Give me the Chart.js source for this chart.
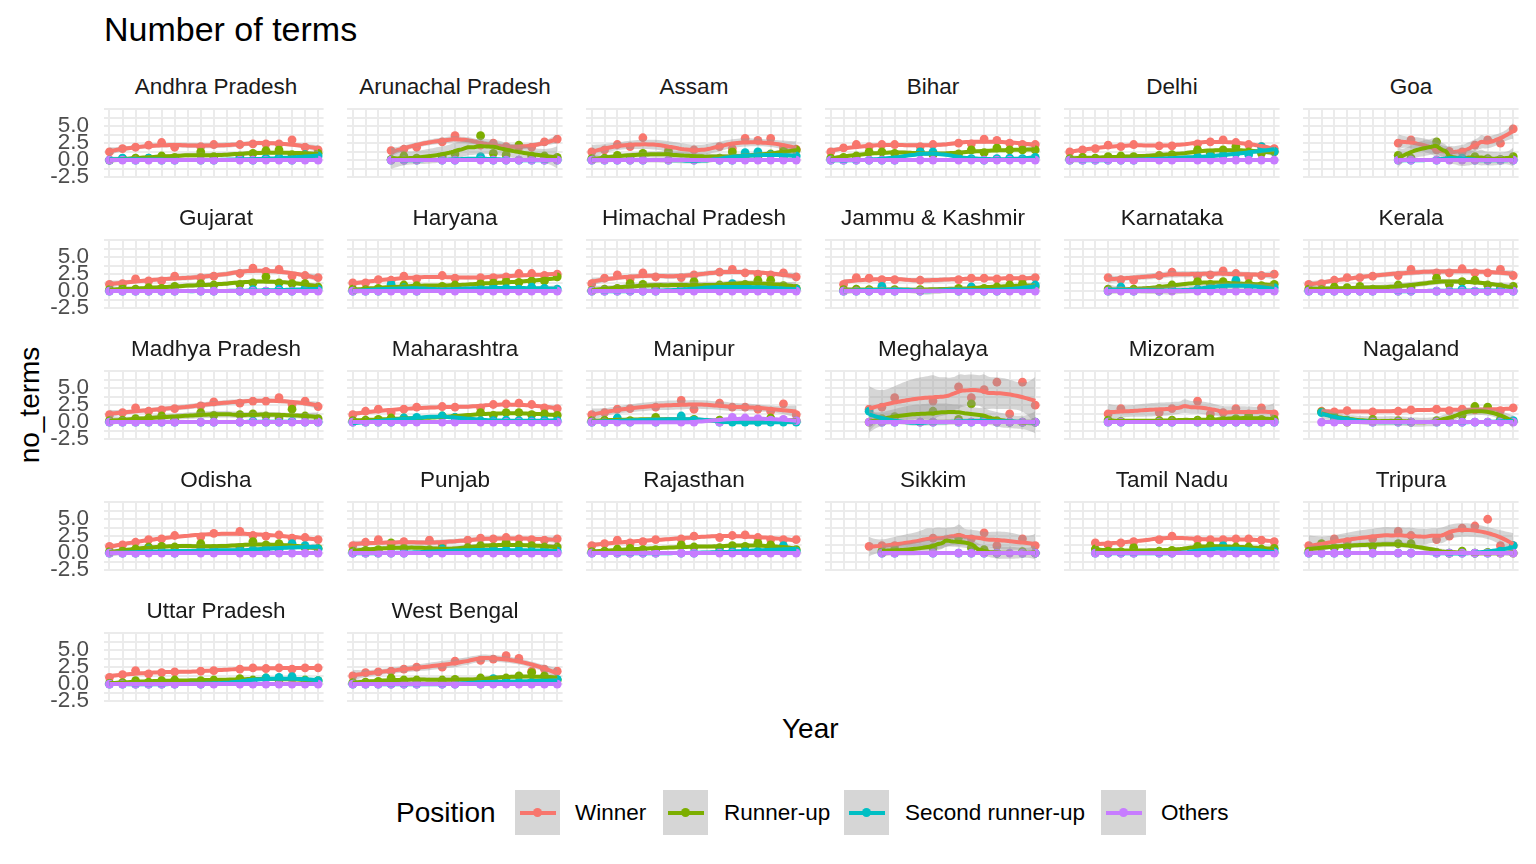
<!DOCTYPE html>
<html>
<head>
<meta charset="utf-8">
<script src="https://cdn.jsdelivr.net/npm/chart.js@4.4.1/dist/chart.umd.min.js"></script>
<style>
  body { margin: 0; background: #fff; font-family: "Liberation Sans", Arial, sans-serif; }
  #page { position: relative; width: 1536px; height: 864px; overflow: hidden; background: #fff; }
  #page canvas { position: absolute; }
  .txt { position: absolute; white-space: nowrap; line-height: 1; }
  .strip { font-size: 22.5px; color: #1A1A1A; text-align: center; width: 224px; }
  .key { position: absolute; width: 45px; height: 45px; background: #D6D6D6; }
  .key .ln { position: absolute; left: 4.5px; width: 36px; top: 20.5px; height: 4px; }
  .key .pt { position: absolute; left: 18px; top: 18px; width: 9px; height: 9px; border-radius: 50%; }
</style>
</head>
<body>
<div id="page">
  <div class="txt" style="left:104px;top:12px;font-size:34px;color:#000">Number of terms</div>
  <div class="txt" style="left:782px;top:715px;font-size:28px;color:#000">Year</div>
  <div class="txt" style="left:30px;top:405px;font-size:28px;color:#000;transform:translate(-50%,-50%) rotate(-90deg)">no_terms</div>
  <div id="legend"></div>
</div>
<script>
const _ = null;

const states = ["Andhra Pradesh", "Arunachal Pradesh", "Assam", "Bihar", "Delhi", "Goa",
  "Gujarat", "Haryana", "Himachal Pradesh", "Jammu & Kashmir", "Karnataka", "Kerala",
  "Madhya Pradesh", "Maharashtra", "Manipur", "Meghalaya", "Mizoram", "Nagaland",
  "Odisha", "Punjab", "Rajasthan", "Sikkim", "Tamil Nadu", "Tripura",
  "Uttar Pradesh", "West Bengal"];

// election slots along the Year axis (17 per panel), one row per state
const winner = [
  [1.2,1.7,1.9,2.2,2.6,1.9,_,2.0,2.3,_,2.3,2.4,2.4,2.4,3.0,1.9,1.5],
  [_,_,_,1.4,1.6,1.9,_,2.7,3.6,_,2.2,2.5,2.0,1.9,1.9,2.7,3.1],
  [1.2,1.5,2.3,2.0,3.3,_,1.5,_,1.5,_,2.0,1.7,3.2,2.9,3.2,1.8,1.6],
  [1.2,1.8,2.3,2.0,2.3,2.3,_,2.0,2.3,_,2.5,2.4,3.1,2.9,2.5,2.3,2.3],
  [1.2,1.5,1.7,2.2,2.0,2.3,_,2.1,2.1,_,2.4,2.7,3.0,2.6,2.3,2.0,1.7],
  [_,_,_,_,_,_,_,2.5,3.0,_,1.5,1.3,1.2,2.2,3.0,2.5,4.6],
  [1.0,1.1,1.8,1.5,1.5,2.2,_,2.0,2.2,_,2.6,3.4,2.9,3.2,2.2,2.3,2.0],
  [1.2,1.2,1.7,1.6,2.2,1.8,_,2.3,1.9,_,2.0,2.0,2.1,2.6,2.6,2.3,2.5],
  [1.1,1.9,2.4,1.8,2.7,2.1,_,2.0,2.4,_,2.8,3.2,2.7,2.5,2.4,2.7,2.1],
  [_,1.0,2.0,1.9,1.7,1.7,_,1.6,_,_,1.7,1.9,1.9,1.8,1.9,1.8,2.0],
  [_,_,_,2.0,1.7,1.6,_,2.3,2.8,_,2.2,2.4,3.0,2.6,2.1,2.3,2.5],
  [1.0,1.1,1.6,2.0,2.0,2.2,_,2.3,3.2,_,2.7,2.7,3.3,2.7,2.7,3.2,2.3],
  [1.1,1.4,2.1,1.6,1.8,2.0,_,2.4,3.0,_,2.8,3.1,3.1,3.6,2.6,3.1,2.3],
  [1.1,1.6,1.9,1.4,1.9,2.2,_,2.3,2.2,_,2.1,2.6,2.7,2.8,2.6,2.1,2.0],
  [1.1,1.4,1.9,2.0,_,2.2,_,3.2,1.9,_,2.8,2.2,2.2,1.9,1.6,2.7,1.1],
  [_,_,_,1.9,2.2,3.6,_,_,3.1,_,5.2,3.6,4.8,5.9,1.2,5.9,2.5],
  [_,_,_,1.2,2.0,_,_,1.4,2.0,_,3.1,1.2,1.4,2.0,1.2,2.1,1.2],
  [_,1.6,1.5,1.7,_,1.5,_,1.6,1.8,_,1.9,1.7,1.9,1.8,2.0,1.7,2.1],
  [1.0,1.2,1.6,2.0,2.1,2.6,_,2.4,2.9,_,3.2,2.6,2.5,2.7,2.2,2.3,2.0],
  [1.1,1.6,2.0,1.2,1.7,_,1.9,1.2,_,1.9,2.2,2.1,2.3,2.1,2.0,1.9,2.1],
  [1.1,1.4,1.9,1.5,1.7,2.0,_,2.1,2.5,_,2.3,2.6,2.7,2.3,2.0,2.0,2.0],
  [_,_,_,1.0,1.1,1.1,_,_,2.2,_,_,2.1,3.0,1.1,_,2.1,1.1],
  [_,_,1.5,1.2,1.5,1.7,_,2.0,2.5,_,2.0,2.0,2.0,2.1,2.1,1.9,1.7],
  [1.1,1.1,2.1,1.7,_,2.1,_,3.2,2.6,_,2.0,2.5,3.7,4.0,5.0,1.1,1.1],
  [1.0,1.4,2.0,1.5,1.7,1.8,_,1.9,2.0,_,2.2,2.4,2.3,2.4,2.2,2.4,2.4],
  [1.2,1.7,1.8,1.9,2.2,2.5,_,2.5,3.4,_,3.5,3.7,4.2,3.8,1.9,2.2,1.9]
];

const runnerUp = [
  [0.0,0.2,0.3,0.3,0.6,0.4,_,1.2,0.5,_,0.6,1.0,1.4,1.5,0.8,0.8,1.0],
  [_,_,_,0.1,0.6,0.3,_,0.5,0.9,_,3.6,1.0,0.8,2.2,0.6,0.6,0.4],
  [0.2,0.3,0.7,0.3,1.0,_,1.2,_,0.2,_,0.3,1.2,0.6,0.5,0.9,1.3,1.5],
  [0.3,0.4,0.6,1.2,1.2,1.0,_,1.2,0.8,_,0.9,1.5,1.1,1.8,1.5,1.5,1.5],
  [0.2,0.4,0.3,0.5,0.6,0.5,_,0.7,0.8,_,1.5,1.0,1.5,2.0,1.2,1.0,1.2],
  [_,_,_,_,_,_,_,0.7,0.3,_,2.7,0.3,0.2,0.5,0.2,0.1,0.5],
  [0.2,0.4,0.3,0.5,0.4,0.7,_,1.1,0.9,_,1.0,1.2,2.1,1.2,1.1,1.1,0.6],
  [0.3,0.2,0.4,0.6,0.9,0.8,_,0.7,0.9,_,1.1,1.2,1.4,1.3,1.5,1.5,2.1],
  [0.1,0.3,0.4,1.1,1.0,0.5,_,0.6,1.4,_,0.9,0.6,1.0,1.6,1.6,0.8,0.4],
  [_,0.2,0.3,0.2,0.3,0.2,_,0.2,_,_,0.4,0.5,0.4,0.6,0.9,1.1,0.6],
  [_,_,_,0.3,0.2,0.3,_,0.4,0.9,_,1.4,1.0,1.4,1.1,1.1,0.8,1.0],
  [0.3,0.2,0.6,0.5,0.7,0.3,_,0.9,0.5,_,1.9,1.0,1.4,1.6,0.9,0.6,0.7],
  [0.2,0.3,0.5,0.6,0.9,0.4,_,1.4,1.0,_,1.1,1.2,0.9,0.6,1.9,0.9,0.5],
  [0.2,0.3,0.4,0.6,0.6,0.4,_,0.9,0.7,_,1.4,1.0,1.4,1.4,1.1,1.2,1.0],
  [0.2,0.3,0.3,0.2,_,0.7,_,0.2,0.4,_,0.3,0.2,0.3,0.2,0.6,0.3,0.2],
  [_,_,_,0.0,0.5,0.8,_,_,1.6,_,0.4,2.7,0.3,0.2,0.0,0.0,0.0],
  [_,_,_,0.3,0.1,_,_,0.2,0.3,_,0.3,0.5,0.3,0.5,0.9,0.4,0.4],
  [_,1.5,0.8,0.0,_,0.4,_,0.2,0.0,_,0.2,0.3,1.0,2.3,2.2,0.4,0.1],
  [0.2,0.3,0.6,0.9,1.0,0.9,_,1.4,0.7,_,0.8,1.7,1.2,1.4,1.1,0.8,0.7],
  [0.3,0.4,0.5,1.5,0.7,_,0.5,0.7,_,0.8,1.1,0.9,1.6,1.2,1.1,0.9,0.9],
  [0.2,0.3,0.6,0.7,0.5,0.5,_,1.2,0.9,_,0.8,1.1,1.0,1.5,1.2,0.9,0.5],
  [_,_,_,_,0.3,0.5,_,_,0.8,_,2.3,0.8,0.5,0.0,_,0.2,0.0],
  [_,_,0.6,0.3,0.2,0.8,_,0.3,0.4,_,1.0,1.1,0.9,0.9,0.9,0.6,0.7],
  [0.3,1.4,0.8,0.9,_,1.0,_,1.4,1.4,_,0.1,0.0,0.3,0.0,0.1,0.0,0.0],
  [0.1,0.2,0.5,0.3,0.5,0.6,_,0.5,0.6,_,0.8,0.6,0.9,0.6,0.8,0.6,0.5],
  [0.2,0.3,0.4,0.9,0.6,0.6,_,0.6,0.7,_,0.9,0.6,0.9,1.2,1.7,1.2,0.6]
];

const secondRunnerUp = [
  [0,0.3,0,0.3,0,0,_,0,0,_,0.2,0,0.3,0.4,0,0.8,0.6],
  [_,_,_,0,0,0,_,0,0,_,0.5,0,0,0,0,0,0],
  [0,0,0,0,0,_,0,_,0,_,0,0,1.1,1.2,0.8,0.5,0.6],
  [0,0,0,0,0,0,_,1.2,1.2,_,0.3,0.2,0,0.2,0.3,0.2,0.4],
  [0,0,0,0,0,0,_,0.3,0.2,_,0.5,0.6,0.7,1.0,0.8,2.0,1.3],
  [_,_,_,_,_,_,_,0,0,_,0,0.3,0.3,0,0,0,0],
  [0,0,0,0,0,0,_,0,0,_,0,0.2,0,0.3,0,0.4,0.3],
  [0,0,0,1.0,0.5,0,_,0.3,0.4,_,0.3,0.6,0.4,0.3,0.6,0.4,0.3],
  [0,0,0,0,0,0,_,0.3,0.3,_,0.4,1.1,0.5,0.3,0.5,0.4,0.3],
  [_,0,0,0,0.7,0,_,0,_,_,0,0.6,0,0,0.2,0.3,0.9],
  [_,_,_,0,0.6,0,_,0,0.2,_,0.3,0.4,0.5,1.6,0.4,0.3,0.5],
  [0,0,0,0,0,0,_,0,0,_,0,0,0.3,0,0,0.2,0],
  [0,0,0,0,0,0,_,0,0,_,0,0.1,0,0,0.1,0,0],
  [0,0,0,0,0.6,0.7,_,0.9,0.7,_,0.2,0.2,0.3,0.2,0.2,0.3,0.2],
  [0,0,0.6,0,_,0,_,0.9,0.3,_,0,0,0,0,0,0,0],
  [_,_,_,1.6,0,0,_,0,0,_,0,0,0.5,0,0,0,0],
  [_,_,_,0,0,_,_,0,0,_,0,0,0,0,0,0,0],
  [_,1.4,0.6,0.3,_,0,_,0,0,_,0,0,0,0,0,0.1,0.2],
  [0,0,0,0.6,0.2,0,_,0.6,0.3,_,0.4,0.5,0.6,0.5,1.4,1.1,0.6],
  [0,0,0,0,0,_,0,0.6,_,0.3,0.4,0.5,0.5,0.4,0.3,0.4,0.3],
  [0,0,0,0,0,0,_,0,0,_,0.2,0.2,0.3,0.3,0.4,1.1,0.3],
  [_,_,_,_,0,0,_,_,0,_,0,0,0,0,_,0,0],
  [_,_,0,0,0,0,_,0,0,_,0.2,0.4,1.1,0.5,0.4,0.3,0.2],
  [0,0,0,0,_,0,_,0,0,_,0,0,0,0,0,0.3,1.1],
  [0,0,0,0,0,0,_,0,0.2,_,0.3,0.4,0.9,1.0,1.1,0.5,0.5],
  [0,0,0,0,0,0,_,0,0,_,0,0.8,0.3,0.3,0.3,0.4,0.7]
];

const others = [
  [0,0,0,0,0,0,_,0,0,_,0,0,0,0,0,0,0],
  [_,_,_,0,0,0,_,0,0,_,0,0,0,0,0,0,0],
  [0,0,0,0,0,_,0,_,0,_,0,0,0,0,0,0,0],
  [0,0,0,0,0,0,_,0,0,_,0,0,0,0,0,0,0],
  [0,0,0,0,0,0,_,0,0,_,0,0,0,0,0,0,0],
  [_,_,_,_,_,_,_,0,0,_,0,0,0,0,0,0,0],
  [0,0,0,0,0,0,_,0,0,_,0,0,0,0,0,0,0],
  [0,0,0,0,0,0,_,0,0,_,0,0,0,0,0,0,0],
  [0,0,0,0,0,0,_,0,0,_,0,0,0,0,0,0,0],
  [_,0,0,0,0,0,_,0,_,_,0,0,0,0,0,0,0],
  [_,_,_,0,0,0,_,0,0,_,0,0,0,0,0,0,0],
  [0,0,0,0,0,0,_,0,0,_,0,0,0,0,0,0,0],
  [0,0,0,0,0,0,_,0,0,_,0,0,0,0,0,0,0],
  [0,0,0,0,0,0,_,0,0,_,0,0,0,0,0,0,0],
  [0,0,0,0,_,0,_,0,0,_,0,0.7,0.6,0.5,0.3,0.4,0.2],
  [_,_,_,0,0,0,_,0,0,_,0,0,0,0,0,0,0],
  [_,_,_,0,0,_,_,0,0,_,0,0,0,0,0,0,0],
  [_,0,0,0,_,0,_,0,0,_,0,0,0,0,0,0,0],
  [0,0,0,0,0,0,_,0,0,_,0,0,0,0,0,0,0],
  [0,0,0,0,0,_,0,0,_,0,0,0,0,0,0,0,0],
  [0,0,0,0,0,0,_,0,0,_,0,0,0,0,0,0,0],
  [_,_,_,_,0,0,_,_,0,_,0,0,0,0,0,0,0],
  [_,_,0,0,0,0,_,0,0,_,0,0,0,0,0,0,0],
  [0,0,0,0,_,0,_,0,0,_,0,0,0,0,0,0,0],
  [0,0,0,0,0,0,_,0,0,_,0,0,0,0,0,0,0],
  [0,0,0,0,0,0,_,0,0,_,0,0,0,0,0,0,0]
];

const positions = ["Winner", "Runner-up", "Second runner-up", "Others"];
const colours = ["#F8766D", "#7CAE00", "#00BFC4", "#C77CFF"];
const yLabels = [-2.5, 0, 2.5, 5];
const yBreaks = [-2.5, -1.25, 0, 1.25, 2.5, 3.75, 5, 6.25, 7.5];
const xBreaks = [0,1,2,3,4,5,6,7,8,9,10,11,12,13,14,15,16];

const series = [winner, runnerUp, secondRunnerUp, others];
const FONT = '"Liberation Sans", Arial, sans-serif';
const GRID = '#EBEBEB';
const RIBBON = 'rgba(153,153,153,0.4)';

// loess-like local quadratic smoother (span .75, tricube weights), as geom_smooth does
function hatRow(xs, x0, q) {
  const d = xs.map(x => Math.abs(x - x0));
  const h = Math.max(d.slice().sort((a, b) => a - b)[q - 1], 1e-6) * 1.001;
  const w = d.map(v => { const u = v / h; return u < 1 ? Math.pow(1 - u * u * u, 3) : 0; });
  const S = [[0,0,0],[0,0,0],[0,0,0]];
  xs.forEach((x, i) => {
    const t = x - x0, b = [1, t, t * t];
    for (let j = 0; j < 3; j++) for (let k = 0; k < 3; k++) S[j][k] += w[i] * b[j] * b[k];
  });
  const [a, b, c] = S[0], [dd, e, f] = S[1], [g, hh, ii] = S[2];
  const A = e * ii - f * hh, B = -(dd * ii - f * g), C = dd * hh - e * g;
  const det = a * A + b * B + c * C;
  if (Math.abs(det) > 1e-9) {
    const r0 = A / det, r1 = -(b * ii - c * hh) / det, r2 = (b * f - c * e) / det;
    return xs.map((x, i) => { const t = x - x0; return w[i] * (r0 + r1 * t + r2 * t * t); });
  }
  const det2 = a * e - b * b;
  if (Math.abs(det2) > 1e-9) return xs.map((x, i) => w[i] * (e - b * (x - x0)) / det2);
  return xs.map((x, i) => w[i] / a);
}

function smooth(arr) {
  const xs = [], ys = [];
  arr.forEach((v, i) => { if (v !== null) { xs.push(i); ys.push(v); } });
  const n = xs.length;
  const q = Math.min(n, Math.max(4, Math.floor(n * 0.75)));
  let rss = 0, tr = 0;
  xs.forEach((x, i) => {
    const l = hatRow(xs, x, q);
    const fit = l.reduce((s, v, j) => s + v * ys[j], 0);
    rss += (ys[i] - fit) ** 2;
    tr += l[i];
  });
  const sigma = Math.sqrt(rss / Math.max(n - tr, 1));
  const lo = Math.min(...xs), hi = Math.max(...xs);
  const line = [], upper = [], lower = [];
  for (let k = 0; k <= 80; k++) {
    const x0 = lo + (hi - lo) * k / 80;
    const l = hatRow(xs, x0, q);
    const fit = l.reduce((s, v, j) => s + v * ys[j], 0);
    const se = sigma * Math.sqrt(l.reduce((s, v) => s + v * v, 0));
    line.push({ x: x0, y: fit });
    upper.push({ x: x0, y: fit + 2.2 * se });
    lower.push({ x: x0, y: fit - 2.2 * se });
  }
  return { line, upper, lower };
}

const page = document.getElementById('page');
const PW = 224, PH = 70, PAD = 30, YAXIS = 70;

states.forEach((name, s) => {
  const col = s % 6, row = Math.floor(s / 6);
  const left = Math.round(103.5 + 239 * col);
  const top = 108 + 131 * row;

  const strip = document.createElement('div');
  strip.className = 'txt strip';
  strip.style.left = left + 'px';
  strip.style.top = (top - 21 - 11) + 'px';
  strip.textContent = name;
  page.appendChild(strip);

  const extra = col === 0 ? YAXIS : 0;
  const cv = document.createElement('canvas');
  cv.width = PW + extra;
  cv.height = PH + 2 * PAD;
  cv.style.left = (left - extra) + 'px';
  cv.style.top = (top - PAD) + 'px';
  cv.style.width = cv.width + 'px';
  cv.style.height = cv.height + 'px';
  page.appendChild(cv);

  const datasets = [];
  series.forEach((data, g) => {
    const pts = [];
    data[s].forEach((v, i) => { if (v !== null) pts.push({ x: i, y: v }); });
    datasets.push({
      type: 'scatter', label: positions[g], data: pts,
      backgroundColor: colours[g], borderWidth: 0, pointRadius: 4.4, pointHoverRadius: 4.4,
      order: 40 - g
    });
  });
  series.forEach((data, g) => {
    const fit = smooth(data[s]);
    datasets.push({
      type: 'line', data: fit.upper, borderWidth: 0, pointRadius: 0,
      fill: '+1', backgroundColor: RIBBON, order: 30 - 2 * g
    });
    datasets.push({
      type: 'line', data: fit.lower, borderWidth: 0, pointRadius: 0,
      fill: false, order: 30 - 2 * g
    });
    datasets.push({
      type: 'line', label: positions[g], data: fit.line, borderColor: colours[g],
      borderWidth: 4, pointRadius: 0, fill: false, order: 29 - 2 * g
    });
  });

  new Chart(cv.getContext('2d'), {
    type: 'scatter',
    data: { datasets },
    options: {
      responsive: false,
      animation: false,
      devicePixelRatio: 1,
      layout: { padding: { top: PAD, bottom: PAD, left: 0, right: 0 } },
      plugins: { legend: { display: false }, tooltip: { enabled: false } },
      scales: {
        x: {
          type: 'linear', min: -0.42, max: 16.42,
          border: { display: false },
          grid: { color: GRID, lineWidth: 2, drawTicks: false },
          ticks: { display: false, autoSkip: false },
          afterBuildTicks: sc => { sc.ticks = xBreaks.map(v => ({ value: v })); },
          afterFit: sc => { sc.height = 0; }
        },
        y: {
          type: 'linear', min: -2.65, max: 7.7,
          border: { display: false },
          grid: { color: GRID, lineWidth: 2, drawTicks: false },
          ticks: {
            display: col === 0, padding: 15, color: '#4D4D4D', autoSkip: false,
            font: { family: FONT, size: 22.5 },
            callback: v => yLabels.includes(v) ? v.toFixed(1) : ''
          },
          afterBuildTicks: sc => { sc.ticks = yBreaks.map(v => ({ value: v })); },
          afterFit: sc => { sc.width = extra; }
        }
      }
    }
  });
});

// legend
const legend = document.getElementById('legend');
const keyLeft = [515, 663, 844, 1101];
const labelLeft = [575, 724, 905, 1161];
let html = '<div class="txt" style="left:396px;top:799px;font-size:28px;color:#000">Position</div>';
positions.forEach((p, g) => {
  html += '<div class="key" style="left:' + keyLeft[g] + 'px;top:790px">' +
    '<div class="ln" style="background:' + colours[g] + '"></div>' +
    '<div class="pt" style="background:' + colours[g] + '"></div></div>' +
    '<div class="txt" style="left:' + labelLeft[g] + 'px;top:802px;font-size:22.5px;color:#000">' + p + '</div>';
});
legend.innerHTML = html;
</script>
</body>
</html>
